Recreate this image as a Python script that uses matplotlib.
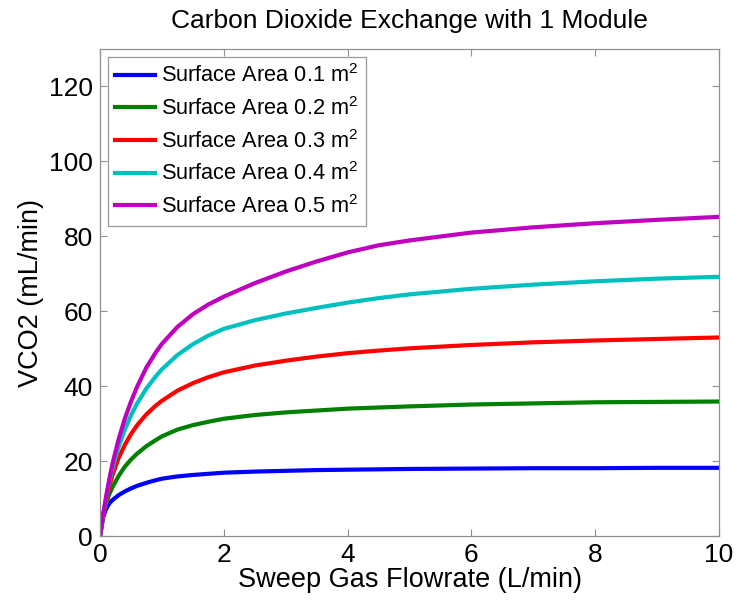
import matplotlib
matplotlib.use("Agg")
import matplotlib.pyplot as plt

plt.rcParams['font.family'] = ['Liberation Sans', 'DejaVu Sans']
plt.rcParams['mathtext.fontset'] = 'custom'
plt.rcParams['mathtext.rm'] = 'Liberation Sans'

# Sweep gas flowrate (L/min)
flowrate = [0, 0.05, 0.1, 0.15, 0.2, 0.3, 0.4, 0.5, 0.6, 0.75, 0.9, 1.0, 1.25,
            1.5, 1.75, 2.0, 2.5, 3.0, 3.5, 4.0, 4.5, 5.0, 6.0, 7.0, 8.0, 9.0, 10.0]

# CO2 removal (mL/min) for each membrane surface area
vco2_01 = [0, 5.0, 7.3, 8.7, 9.6, 10.9, 11.9, 12.7, 13.4, 14.2, 14.9, 15.3, 15.9,
           16.3, 16.6, 16.9, 17.2, 17.4, 17.6, 17.7, 17.8, 17.9, 18.0, 18.1, 18.1,
           18.2, 18.2]
vco2_02 = [0, 5.5, 8.8, 11.2, 13.0, 16.0, 18.5, 20.4, 22.0, 24.0, 25.6, 26.6, 28.4,
           29.6, 30.5, 31.3, 32.3, 33.0, 33.5, 34.0, 34.3, 34.6, 35.1, 35.4, 35.7,
           35.8, 35.9]
vco2_03 = [0, 5.5, 9.6, 13.2, 16.2, 20.8, 24.3, 27.2, 29.6, 32.5, 34.8, 36.1, 38.8,
           40.8, 42.4, 43.7, 45.5, 46.8, 47.9, 48.8, 49.5, 50.1, 51.0, 51.7, 52.2,
           52.6, 53.0]
vco2_04 = [0, 5.6, 10.3, 14.5, 18.0, 23.8, 28.4, 32.2, 35.4, 39.4, 42.6, 44.5, 48.3,
           51.2, 53.5, 55.3, 57.6, 59.4, 60.9, 62.3, 63.5, 64.5, 66.0, 67.1, 68.0,
           68.7, 69.2]
vco2_05 = [0, 5.7, 10.7, 15.2, 19.2, 25.8, 31.3, 35.9, 39.9, 45.0, 49.0, 51.3, 55.8,
           59.2, 61.8, 63.9, 67.5, 70.6, 73.3, 75.7, 77.6, 78.9, 81.0, 82.4, 83.5,
           84.4, 85.2]

areas = ['0.1', '0.2', '0.3', '0.4', '0.5']
series = [vco2_01, vco2_02, vco2_03, vco2_04, vco2_05]
colors = [(0, 0, 1), (0, 0.5, 0), (1, 0, 0), (0, 0.75, 0.75), (0.75, 0, 0.75)]

x_ticks = [0, 2, 4, 6, 8, 10]
y_ticks = [0, 20, 40, 60, 80, 100, 120]

fig = plt.figure(figsize=(7.42, 6.03), dpi=100)
ax = fig.add_axes([0.1348, 0.1111, 0.8342, 0.8076])

for vals, area, col in zip(series, areas, colors):
    ax.plot(flowrate, vals, color=col, lw=3.0,
            label='Surface Area ' + area + r' $\mathregular{m^2}$',
            solid_joinstyle='round')

ax.set_xlim(0, 10)
ax.set_ylim(0, 130)
ax.set_xticks(x_ticks)
ax.set_yticks(y_ticks)
ax.tick_params(direction='in', length=5, width=0.8, color='#909090',
               top=True, right=True, labelsize=19, pad=5)
for s in ax.spines.values():
    s.set_color('#909090')
    s.set_linewidth(0.9)

ax.set_title('Carbon Dioxide Exchange with 1 Module', fontsize=19, pad=15)
ax.set_xlabel('Sweep Gas Flowrate (L/min)', fontsize=19.5, labelpad=0)
ax.set_ylabel('VCO2 (mL/min)', fontsize=19.5, labelpad=4)

leg = ax.legend(loc='upper left', fontsize=15.7, frameon=True, fancybox=False,
                edgecolor='#808080', handlelength=1.8, handletextpad=0.3,
                labelspacing=0.45, borderpad=0.35, borderaxespad=0.35)
leg.get_frame().set_linewidth(0.9)
for line in leg.get_lines():
    line.set_linewidth(3.0)

fig.savefig('out.png', dpi=100, facecolor='white')
